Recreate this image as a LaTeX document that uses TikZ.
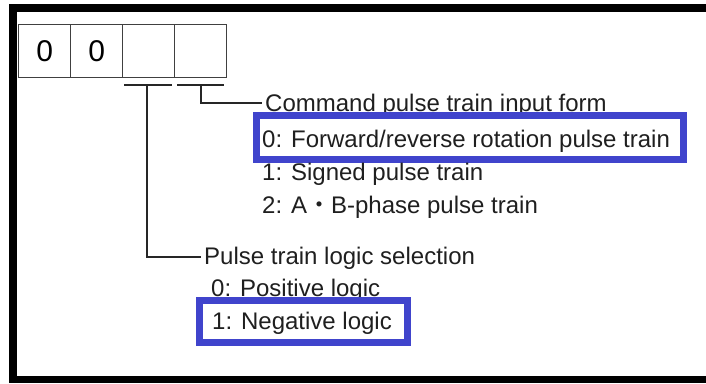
\documentclass[tikz,border=0pt]{standalone}
\usepackage{fontspec}
\setmainfont{Liberation Sans}
\newfontfamily\cjk{Noto Sans CJK JP}
\begin{document}
\begin{tikzpicture}[x=1pt,y=-1pt,
  cell/.style={draw=black!75,line width=1.3pt,minimum width=52pt,minimum height=53pt,inner sep=0pt,anchor=north west,font=\fontsize{30}{30}\selectfont},
  txt/.style={anchor=base west,inner sep=0pt,text=black!88,font=\fontsize{24}{24}\selectfont},
  hilite/.style={draw={rgb,255:red,64;green,68;blue,204},line width=7pt,fill=white},
  lead/.style={draw=black!85,line width=1.4pt},
  frame/.style={fill=black}]
\useasboundingbox (0,0) rectangle (706,383);
\fill[white] (0,0) rectangle (706,383);
% frame
\fill[frame] (9,4) rectangle (706,12);
\fill[frame] (9,4) rectangle (16.5,383);
\fill[frame] (9,376) rectangle (706,383);
% digit cells
\node[cell] (c1) at (18,24) {0};
\node[cell] (c2) at (70,24) {0};
\node[cell] (c3) at (122,24) {};
\node[cell] (c4) at (174,24) {};
% brackets
\coordinate (b3l) at (124,85);
\coordinate (b3r) at (172,85);
\coordinate (b4l) at (177,85);
\coordinate (b4r) at (224,85);
\draw[lead] (b3l) -- (b3r);
\draw[lead] (b4l) -- (b4r);
% texts
\node[txt] (cmd) at (265,111) {Command pulse train input form};
\draw[hilite] (256.5,115.5) rectangle (683,159.5);
\node[txt] (f0) at (262,147) {0: Forward/reverse rotation pulse train};
\node[txt] (f1) at (262,180) {1: Signed pulse train};
\node[txt] (f2) at (262,213) {2: A{\cjk ・}B-phase pulse train};
\node[txt] (lg) at (204,264) {Pulse train logic selection};
\node[txt] (l0) at (211,296) {0: Positive logic};
\draw[hilite] (199.5,300.5) rectangle (407.5,342);
\node[txt] (l1) at (212,329) {1: Negative logic};
% leaders
\draw[lead,line width=2.2pt] (201,85) |- ([xshift=-3pt]cmd.west |- 0,103);
\draw[lead] (147,85) |- ([xshift=-3pt]lg.west |- 0,257);
\end{tikzpicture}
\end{document}
